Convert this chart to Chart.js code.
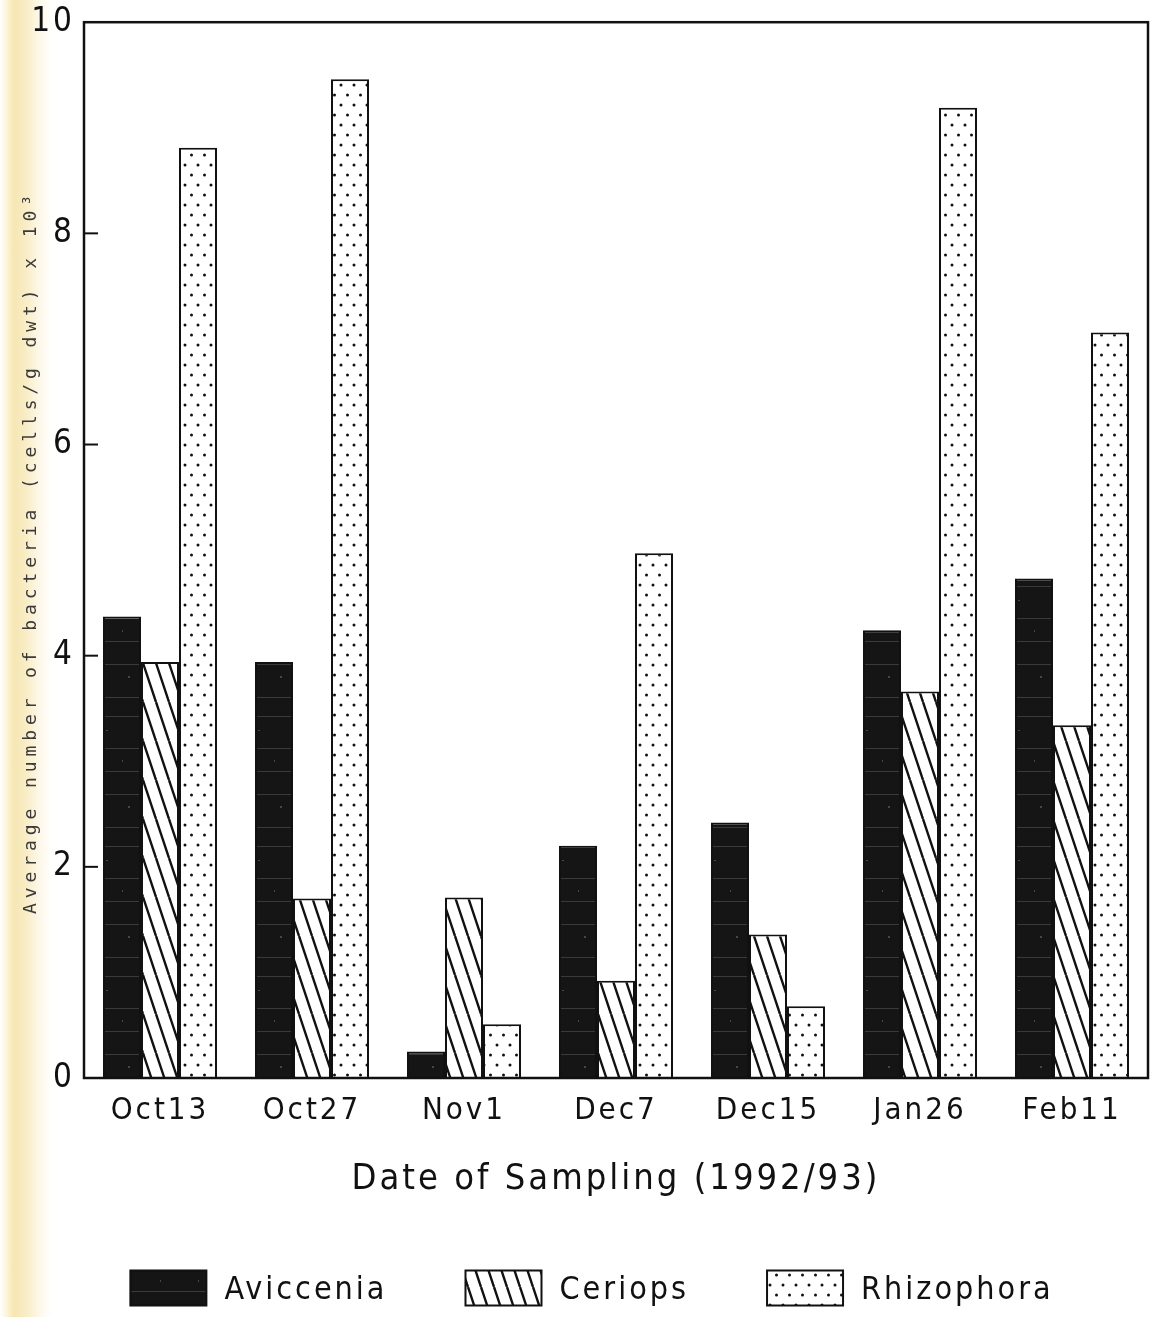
<!DOCTYPE html>
<html>
<head>
<meta charset="utf-8">
<script src="https://cdn.jsdelivr.net/npm/chart.js@4/dist/chart.umd.min.js"></script>
<style>
  html, body { margin: 0; padding: 0; }
  body {
    width: 1153px; height: 1317px; overflow: hidden;
    background: linear-gradient(to right, #ffffff 0px, #fdf6dc 6px, #f6e6b2 14px, #f9edc6 26px, #fdf8ea 40px, #ffffff 52px);
  }
  canvas { display: block; }
</style>
</head>
<body>
<canvas id="myChart" width="1153" height="1317"></canvas>
<script>
const dates = ['Oct13', 'Oct27', 'Nov1', 'Dec7', 'Dec15', 'Jan26', 'Feb11'];
const avicennia = [4.37, 3.94, 0.25, 2.20, 2.42, 4.24, 4.73];
const ceriops = [3.94, 1.70, 1.71, 0.92, 1.36, 3.66, 3.34];
const rhizophora = [8.81, 9.46, 0.51, 4.97, 0.68, 9.19, 7.06];
const yTicks = [0, 2, 4, 6, 8, 10];

const FONT = "'DejaVu Sans Condensed', 'DejaVu Sans', sans-serif";
const INK = '#111111';

// fill patterns
function darkPattern(ctx) {
  const c = document.createElement('canvas');
  c.width = 38; c.height = 130;
  const p = c.getContext('2d');
  p.fillStyle = '#151515';
  p.fillRect(0, 0, 38, 130);
  p.fillStyle = 'rgba(190,190,190,0.22)';
  [14, 47, 66, 98, 121].forEach(y => p.fillRect(0, y, 38, 1));
  p.fillStyle = 'rgba(190,190,190,0.3)';
  p.fillRect(14, 26, 2, 2); p.fillRect(30, 80, 2, 1); p.fillRect(8, 110, 1, 2);
  return ctx.createPattern(c, 'repeat');
}
function hatchPattern(ctx) {
  const c = document.createElement('canvas');
  c.width = 13; c.height = 39;
  const p = c.getContext('2d');
  p.fillStyle = '#ffffff';
  p.fillRect(0, 0, 13, 39);
  p.strokeStyle = INK;
  p.lineWidth = 2.4;
  [-13, 0, 13].forEach(x0 => {
    p.beginPath();
    p.moveTo(x0, 0);
    p.lineTo(x0 + 13, 39);
    p.stroke();
  });
  return ctx.createPattern(c, 'repeat');
}
function dotPattern(ctx) {
  const c = document.createElement('canvas');
  c.width = 13; c.height = 20;
  const p = c.getContext('2d');
  p.fillStyle = '#ffffff';
  p.fillRect(0, 0, 13, 20);
  p.fillStyle = INK;
  [[3, 5], [9.5, 15]].forEach(([x, y]) => {
    p.beginPath();
    p.arc(x, y, 1.5, 0, Math.PI * 2);
    p.fill();
  });
  return ctx.createPattern(c, 'repeat');
}

const canvas = document.getElementById('myChart');
const ctx = canvas.getContext('2d');

const datasets = [];
datasets.push({
  label: 'Aviccenia',
  data: avicennia,
  backgroundColor: darkPattern(ctx),
  borderColor: INK,
  borderWidth: 2,
});
datasets.push({
  label: 'Ceriops',
  data: ceriops,
  backgroundColor: hatchPattern(ctx),
  borderColor: INK,
  borderWidth: 2,
});
datasets.push({
  label: 'Rhizophora',
  data: rhizophora,
  backgroundColor: dotPattern(ctx),
  borderColor: INK,
  borderWidth: 2,
});

// letter spacing for the plotter-like look
const spacing = {
  id: 'spacing',
  beforeDraw(chart) { chart.ctx.letterSpacing = '3px'; },
};

// frame + inward ticks
const frame = {
  id: 'frame',
  afterDatasetsDraw(chart) {
    const {ctx, chartArea: a} = chart;
    const y = chart.scales.y;
    ctx.save();
    ctx.strokeStyle = INK;
    ctx.lineWidth = 2.5;
    ctx.strokeRect(a.left, a.top, a.right - a.left, a.bottom - a.top);
    ctx.lineWidth = 2;
    y.ticks.forEach((t, i) => {
      if (t.value === 0 || t.value === 10) return;
      const py = y.getPixelForTick(i);
      ctx.beginPath();
      ctx.moveTo(a.left, py);
      ctx.lineTo(a.left + 14, py);
      ctx.stroke();
    });
    ctx.restore();
  },
};

// y title and legend
const extras = {
  id: 'extras',
  afterDraw(chart) {
    const {ctx} = chart;
    ctx.save();
    ctx.letterSpacing = '4.9px';
    ctx.fillStyle = '#3a3a3a';
    ctx.font = "18px 'DejaVu Sans Mono', monospace";
    ctx.translate(31, 552);
    ctx.rotate(-Math.PI / 2);
    ctx.textAlign = 'center';
    ctx.textBaseline = 'middle';
    ctx.fillText('Average number of bacteria (cells/g dwt) x 10\u00B3', 0, 0);
    ctx.restore();

    ctx.save();
    ctx.letterSpacing = '3px';
    ctx.font = '32px ' + FONT;
    ctx.textBaseline = 'middle';
    const boxW = 76, boxH = 35, gap = 18, between = 78;
    const items = chart.data.datasets.map(ds => ({ds, w: ctx.measureText(ds.label).width}));
    const total = items.reduce((s, it) => s + boxW + gap + it.w, 0) + between * (items.length - 1);
    let x = 592 - total / 2;
    const cy = 1288;
    items.forEach(it => {
      ctx.fillStyle = it.ds.backgroundColor;
      ctx.fillRect(x, cy - boxH / 2, boxW, boxH);
      ctx.strokeStyle = INK;
      ctx.lineWidth = 2;
      ctx.strokeRect(x, cy - boxH / 2, boxW, boxH);
      ctx.fillStyle = INK;
      ctx.fillText(it.ds.label, x + boxW + gap, cy + 3);
      x += boxW + gap + it.w + between;
    });
    ctx.restore();
  },
};

const config = {
  type: 'bar',
  data: {
    labels: dates,
    datasets,
  },
  options: {
    responsive: false,
    animation: false,
    devicePixelRatio: 1,
    layout: { padding: { top: 21, right: 5, bottom: 89, left: 0 } },
    datasets: {
      bar: { categoryPercentage: 0.75, barPercentage: 1.0, borderSkipped: 'start' },
    },
    plugins: {
      legend: { display: false },
      tooltip: { enabled: false },
    },
    scales: {
      x: {
        grid: { display: false, drawTicks: false },
        border: { display: false },
        ticks: {
          color: INK,
          padding: 14,
          maxRotation: 0,
          font: { family: FONT, size: 31 },
        },
        title: {
          display: true,
          text: 'Date of Sampling (1992/93)',
          color: INK,
          font: { family: FONT, size: 36 },
          padding: { top: 0, bottom: 27 },
        },
        afterFit(scale) { scale.height = 150; },
      },
      y: {
        min: 0,
        max: 10,
        grid: { display: false, drawTicks: false },
        border: { display: false },
        afterBuildTicks(scale) { scale.ticks = yTicks.map(v => ({value: v})); },
        ticks: {
          color: INK,
          padding: 9,
          font: { family: FONT, size: 33, lineHeight: 0.8 },
        },
        afterFit(scale) { scale.width = 84; },
      },
    },
  },
  plugins: [spacing, frame, extras],
};

const myChart = new Chart(ctx, config);
</script>
</body>
</html>
